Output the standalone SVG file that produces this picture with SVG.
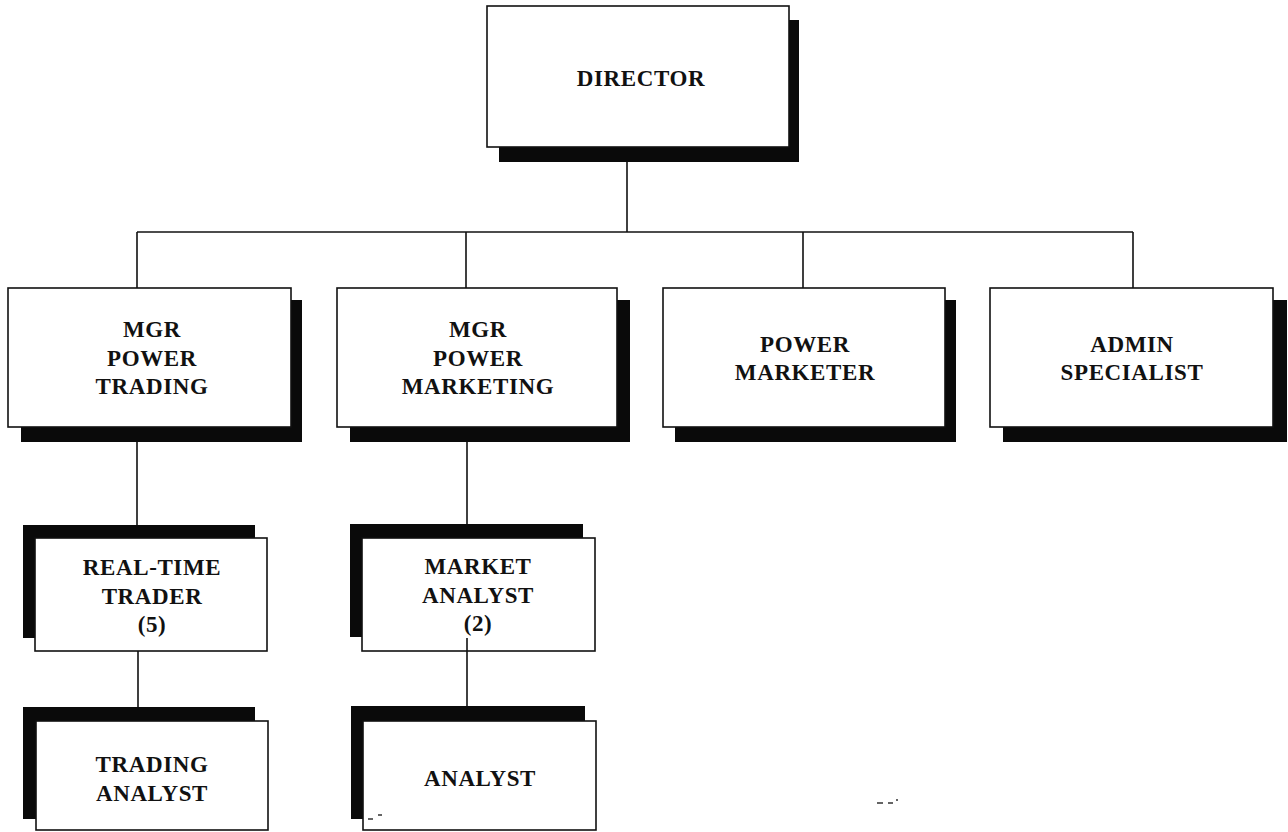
<svg xmlns="http://www.w3.org/2000/svg" width="1288" height="832" viewBox="0 0 1288 832">
  <style>
    .box { fill: #fff; stroke: #111; stroke-width: 1.6; }
    .shadow { fill: #0a0a0a; }
    .wire { fill: none; stroke: #111; stroke-width: 1.6; }
    .lbl { font-family: "Liberation Serif", "Times New Roman", serif; font-weight: bold; font-size: 23px; letter-spacing: 0.6px; fill: #111; text-anchor: middle; }
    .speck { stroke: #333; stroke-width: 1.4; }
  </style>
  <rect width="1288" height="832" fill="#fff"/>

  <!-- connectors -->
  <g id="connectors">
    <path class="wire" d="M627 147 V232"/>
    <path class="wire" d="M137 232 H1133"/>
    <path class="wire" d="M137 232 V288 M466 232 V288 M803 232 V288 M1133 232 V288"/>
    <path class="wire" d="M137 428 V525 M138 651 V707"/>
    <path class="wire" d="M467 428 V524"/>
  </g>

  <!-- top level -->
  <g id="director">
    <rect class="shadow" x="499" y="20" width="300" height="142"/>
    <rect class="box" x="487" y="6" width="302" height="141"/>
    <text class="lbl" x="641" y="86">DIRECTOR</text>
  </g>

  <!-- second level: shadow drops to the lower right -->
  <g id="mgr-power-trading">
    <rect class="shadow" x="21" y="300" width="281" height="142"/>
    <rect class="box" x="8" y="288" width="283" height="139"/>
    <text class="lbl" x="152" y="337">MGR</text>
    <text class="lbl" x="152" y="366">POWER</text>
    <text class="lbl" x="152" y="394">TRADING</text>
  </g>
  <g id="mgr-power-marketing">
    <rect class="shadow" x="350" y="300" width="280" height="142"/>
    <rect class="box" x="337" y="288" width="280" height="139"/>
    <text class="lbl" x="478" y="337">MGR</text>
    <text class="lbl" x="478" y="366">POWER</text>
    <text class="lbl" x="478" y="394">MARKETING</text>
  </g>
  <g id="power-marketer">
    <rect class="shadow" x="675" y="300" width="281" height="142"/>
    <rect class="box" x="663" y="288" width="282" height="139"/>
    <text class="lbl" x="805" y="352">POWER</text>
    <text class="lbl" x="805" y="380">MARKETER</text>
  </g>
  <g id="admin-specialist">
    <rect class="shadow" x="1003" y="300" width="284" height="142"/>
    <rect class="box" x="990" y="288" width="283" height="139"/>
    <text class="lbl" x="1132" y="352">ADMIN</text>
    <text class="lbl" x="1132" y="380">SPECIALIST</text>
  </g>

  <!-- third and fourth level: shadow sits to the upper left -->
  <g id="real-time-trader">
    <rect class="shadow" x="23" y="525" width="232" height="113"/>
    <rect class="box" x="35" y="538" width="232" height="113"/>
    <text class="lbl" x="152" y="575">REAL-TIME</text>
    <text class="lbl" x="152" y="604">TRADER</text>
    <text class="lbl" x="152" y="632">(5)</text>
  </g>
  <g id="trading-analyst">
    <rect class="shadow" x="23" y="707" width="232" height="112"/>
    <rect class="box" x="36" y="721" width="232" height="109"/>
    <text class="lbl" x="152" y="772">TRADING</text>
    <text class="lbl" x="152" y="801">ANALYST</text>
  </g>
  <g id="market-analyst">
    <rect class="shadow" x="350" y="524" width="233" height="113"/>
    <rect class="box" x="362" y="538" width="233" height="113"/>
    <text class="lbl" x="478" y="574">MARKET</text>
    <text class="lbl" x="478" y="603">ANALYST</text>
    <text class="lbl" x="478" y="631">(2)</text>
  </g>
  <g id="analyst">
    <rect class="shadow" x="351" y="706" width="234" height="113"/>
    <rect class="box" x="363" y="721" width="233" height="109"/>
    <text class="lbl" x="480" y="786">ANALYST</text>
  </g>

  <!-- link between market analyst and analyst runs up into the box -->
  <path class="wire" d="M467 638 V706"/>

  <!-- stray marks -->
  <g id="specks">
    <path class="speck" d="M368 819 H373 M378 815 H382"/>
    <path class="speck" d="M877 803 H883 M888 803 H893 M896 800 H898"/>
  </g>
</svg>
